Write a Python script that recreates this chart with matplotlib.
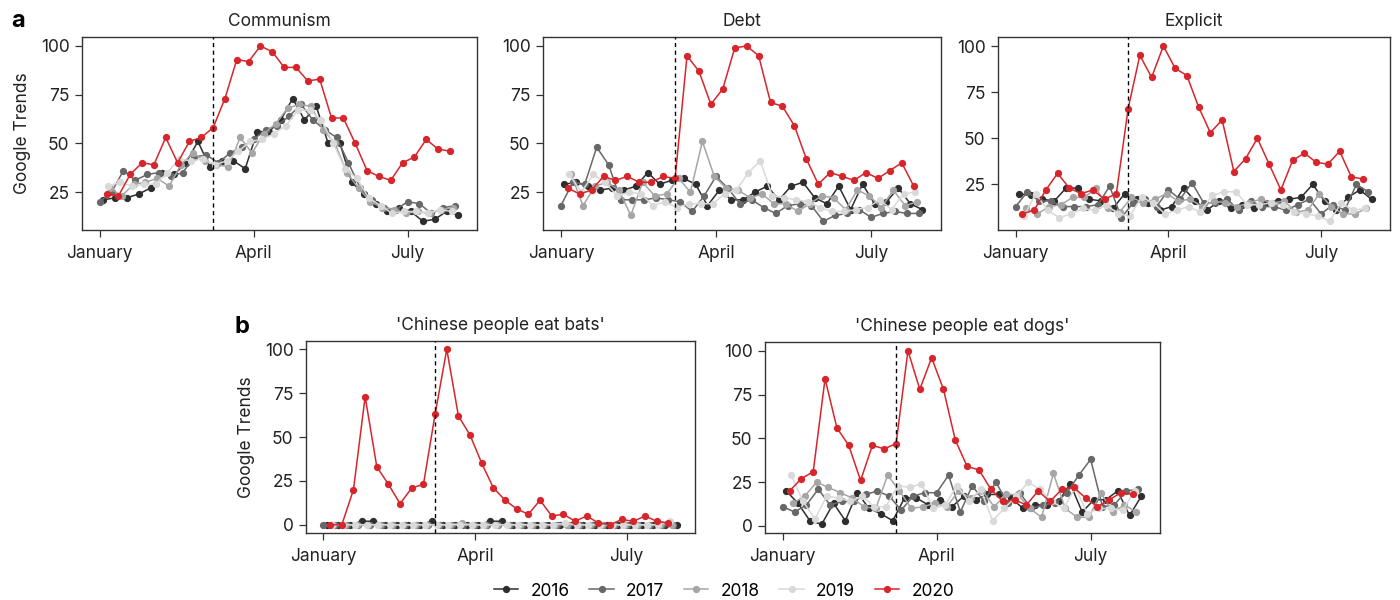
import numpy as np
import matplotlib
matplotlib.use('Agg')
import matplotlib.pyplot as plt
from matplotlib.lines import Line2D

plt.rcParams['font.family'] = ['Inter', 'DejaVu Sans']

years = ['2016', '2017', '2018', '2019', '2020']
colors = ['#2e2e2e', '#686868', '#a6a6a6', '#d9d9d9', '#d7262b']
# first weekly point of each year, in days since 1 January
start_day = [2, 0, 6, 5, 4]
month_ticks = [0, 91, 182]
month_labels = ['January', 'April', 'July']
lockdown_day = 67

communism = {
    '2016': [21, 22, 22, 24, 27, 35, 34, 40, 51, 38, 41, 41, 37, 56, 56, 62, 73, 62, 69, 50, 50, 30, 24, 19, 15, 17, 15, 10, 11, 15, 13],
    '2017': [20, 25, 36, 31, 34, 35, 33, 35, 43, 44, 40, 45, 48, 52, 57, 59, 64, 70, 62, 57, 53, 40, 27, 21, 17, 16, 20, 19, 14, 17, 18],
    '2018': [27, 23, 29, 30, 32, 28, 39, 45, 41, 39, 38, 53, 45, 55, 60, 68, 70, 69, 57, 50, 35, 27, 20, 17, 16, 14, 15, 14, 16, 17],
    '2019': [28, 30, 28, 29, 29, 35, 42, 41, 42, 39, 41, 46, 51, 52, 55, 59, 67, 67, 62, 50, 37, 32, 22, 18, 14, 15, 15, 14, 16, 15],
    '2020': [24, 23, 34, 40, 39, 53, 40, 51, 53, 58, 73, 93, 92, 100, 97, 89, 89, 82, 83, 63, 63, 50, 36, 33, 31, 40, 43, 52, 47, 46],
}
debt = {
    '2016': [29, 30, 28, 26, 27, 26, 28, 35, 29, 31, 32, 29, 18, 26, 21, 21, 25, 28, 21, 28, 30, 22, 19, 28, 16, 29, 19, 20, 27, 19, 16],
    '2017': [18, 30, 29, 48, 39, 21, 21, 21, 22, 21, 20, 15, 23, 33, 27, 19, 21, 17, 14, 18, 19, 18, 10, 13, 14, 16, 12, 14, 15, 14, 14],
    '2018': [34, 18, 28, 30, 26, 13, 30, 23, 24, 32, 25, 51, 33, 27, 26, 22, 24, 19, 19, 15, 19, 23, 22, 16, 26, 23, 17, 26, 18, 20],
    '2019': [34, 25, 34, 30, 23, 25, 24, 18, 20, 17, 19, 19, 19, 24, 26, 35, 41, 23, 22, 21, 20, 17, 15, 15, 16, 17, 21, 16, 24, 25],
    '2020': [27, 24, 26, 33, 31, 33, 30, 30, 33, 32, 95, 87, 70, 78, 99, 100, 95, 71, 69, 59, 42, 29, 35, 33, 31, 35, 32, 36, 40, 28],
}
explicit = {
    '2016': [20, 19, 17, 16, 23, 23, 17, 16, 12, 20, 17, 15, 11, 13, 23, 16, 11, 16, 12, 14, 12, 15, 16, 17, 18, 25, 16, 11, 18, 22, 17],
    '2017': [13, 21, 16, 16, 13, 13, 13, 14, 24, 7, 15, 17, 13, 22, 17, 26, 15, 15, 17, 11, 16, 13, 13, 11, 14, 17, 9, 14, 11, 25, 21],
    '2018': [12, 9, 13, 14, 18, 18, 23, 12, 10, 18, 15, 17, 20, 16, 17, 13, 16, 15, 13, 15, 17, 15, 16, 10, 11, 20, 13, 9, 9, 12],
    '2019': [8, 20, 11, 7, 9, 12, 11, 14, 9, 8, 18, 15, 9, 11, 13, 10, 19, 21, 21, 14, 14, 15, 14, 10, 9, 8, 5, 15, 11, 12],
    '2020': [9, 11, 22, 31, 23, 20, 22, 17, 20, 66, 95, 83, 100, 88, 84, 67, 53, 60, 32, 39, 50, 36, 22, 38, 42, 37, 36, 43, 29, 28],
}
bats = {
    '2016': [0, 0, 0, 2, 2, 0, 0, 0, 0, 2, 0, 0, 0, 0, 2, 2, 0, 0, 0, 0, 0, 0, 0, 0, 0, 0, 0, 0, 0, 0, 0],
    '2017': [0, 0, 0, 0, 0, 0, 0, 0, 0, 0, 0, 0, 0, 0, 0, 0, 0, 0, 0, 0, 0, 0, 0, 0, 0, 0, 0, 0, 0, 0, 0],
    '2018': [0, 0, 0, 0, 0, 0, 0, 0, 0, 0, 0, 1, 0, 0, 0, 0, 0, 0, 0, 0, 0, 0, 0, 0, 0, 0, 0, 0, 0, 0],
    '2019': [0, 0, 0, 0, 0, 0, 0, 0, 0, 0, 0, 0, 0, 0, 0, 0, 0, 0, 0, 0, 1, 0, 0, 0, 0, 0, 0, 0, 0, 2],
    '2020': [0, 0, 20, 73, 33, 23, 12, 21, 23, 63, 100, 62, 51, 35, 21, 14, 9, 6, 14, 5, 6, 2, 5, 1, 0, 3, 2, 5, 2, 1],
}
dogs = {
    '2016': [20, 13, 3, 1, 13, 3, 19, 10, 7, 3, 16, 16, 12, 15, 11, 17, 15, 18, 18, 16, 10, 12, 12, 14, 24, 8, 15, 15, 20, 6, 17],
    '2017': [11, 8, 12, 21, 12, 14, 14, 18, 20, 17, 9, 17, 19, 19, 29, 8, 23, 14, 25, 13, 19, 10, 12, 13, 19, 29, 38, 11, 12, 20, 21],
    '2018': [13, 17, 25, 22, 19, 16, 11, 10, 29, 20, 10, 11, 13, 11, 20, 16, 20, 11, 18, 18, 10, 5, 30, 10, 5, 5, 19, 8, 12, 8],
    '2019': [29, 14, 4, 17, 16, 14, 17, 11, 11, 23, 22, 24, 10, 12, 23, 14, 21, 3, 10, 17, 25, 21, 14, 10, 22, 7, 10, 10, 9, 20],
    '2020': [20, 27, 31, 84, 56, 46, 26, 46, 44, 47, 100, 78, 96, 78, 49, 34, 32, 21, 14, 15, 12, 20, 14, 21, 22, 16, 11, 15, 19, 18],
}

fig = plt.figure(figsize=(14, 6), dpi=100)


def px_axes(l, t, r, b):
    return fig.add_axes([l / 1400, 1 - b / 600, (r - l) / 1400, (b - t) / 600])


def draw_panel(ax, data, title, ylim, yticks, ylabel=None):
    for i, y in enumerate(years):
        vals = data[y]
        x = start_day[i] + 7 * np.arange(len(vals))
        ax.plot(x, vals, color=colors[i], lw=1.1, marker='o', markersize=4.2, zorder=2 + i)
    ax.axvline(lockdown_day, color='black', ls='--', lw=1, dashes=(3, 2.5), zorder=10)
    ax.set_xlim(-10.5, 223)
    ax.set_ylim(ylim)
    ax.set_xticks(month_ticks)
    ax.set_xticklabels(month_labels)
    ax.set_yticks(yticks)
    ax.tick_params(labelsize=12.5, length=5, width=0.9, color='#333333', labelcolor='#222222', pad=4)
    ax.tick_params(axis='x', pad=6)
    for s in ax.spines.values():
        s.set_color('#333333')
        s.set_linewidth(1)
    ax.set_title(title, fontsize=12.5, color='#222222', pad=8)
    if ylabel:
        ax.set_ylabel(ylabel, fontsize=12.5, color='#222222', labelpad=7)


ax1 = px_axes(82, 37, 477, 230)
draw_panel(ax1, communism, 'Communism', (5.5, 104.6), [25, 50, 75, 100], 'Google Trends')
ax2 = px_axes(543, 37, 941, 230)
draw_panel(ax2, debt, 'Debt', (5.5, 104.6), [25, 50, 75, 100])
ax3 = px_axes(998, 37, 1390, 230)
draw_panel(ax3, explicit, 'Explicit', (0.3, 104.9), [25, 50, 75, 100])
ax4 = px_axes(306, 341, 695, 533)
draw_panel(ax4, bats, "'Chinese people eat bats'", (-4.7, 104.7), [0, 25, 50, 75, 100], 'Google Trends')
ax5 = px_axes(765, 342, 1160, 533)
draw_panel(ax5, dogs, "'Chinese people eat dogs'", (-4, 105), [0, 25, 50, 75, 100])

fig.text(11 / 1400, 1 - 21 / 600, 'a', fontsize=17, fontweight='bold', va='center')
fig.text(234 / 1400, 1 - 327 / 600, 'b', fontsize=17, fontweight='bold', va='center')

handles = [Line2D([0], [0], color=c, lw=1.1, marker='o', markersize=4.2) for c in colors]
fig.legend(handles, years, loc='center', bbox_to_anchor=(724 / 1400, 1 - 591 / 600), ncol=5,
           frameon=False, fontsize=12.5, handlelength=1.4, columnspacing=1.15, handletextpad=0.7)

plt.savefig('out.png', dpi=100)
